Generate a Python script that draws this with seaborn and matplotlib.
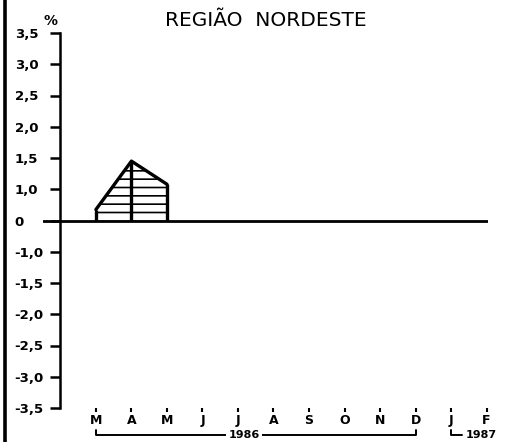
import numpy as np
import pandas as pd
import matplotlib
matplotlib.use("Agg")
import matplotlib.pyplot as plt
import seaborn as sns
from matplotlib.lines import Line2D

# data
months = ["M", "A", "M", "J", "J", "A", "S", "O", "N", "D", "J", "F"]
month_pos = list(range(len(months)))
rate_months = [0, 1, 2]          # Mar, Apr, May 1986
rate_values = [0.35, 1.45, 1.08]  # %
y_ticks = [3.5, 3.0, 2.5, 2.0, 1.5, 1.0, 0, -1.0, -1.5, -2.0, -2.5, -3.0, -3.5]
y_labels = ["3,5", "3,0", "2,5", "2,0", "1,5", "1,0", "0",
            "-1,0", "-1,5", "-2,0", "-2,5", "-3,0", "-3,5"]

df = pd.DataFrame({"mes": rate_months, "taxa": rate_values})


# broken scale: 0..1 takes the same room as 1..1.5
def fwd(v):
    v = np.asarray(v, dtype=float)
    a = np.abs(v)
    return np.where(a <= 1, v, np.sign(v) * (2 * a - 1))


def inv(p):
    p = np.asarray(p, dtype=float)
    a = np.abs(p)
    return np.where(a <= 1, p, np.sign(p) * (a + 1) / 2)


sns.set_style("white")
plt.rcParams["font.family"] = ["DejaVu Sans"]
plt.rcParams["hatch.linewidth"] = 1.2
plt.rcParams["text.color"] = "black"
plt.rcParams["xtick.color"] = "black"
plt.rcParams["ytick.color"] = "black"

fig = plt.figure(figsize=(5.08, 4.42), dpi=100)
ax = fig.add_axes([43 / 508, 34 / 442, 445 / 508, 375 / 442])
ax.set_yscale("function", functions=(fwd, inv))

# hatched area + outline
ax.fill_between(df["mes"], 0, df["taxa"], facecolor="none", edgecolor="black",
                hatch="--", linewidth=0)
sns.lineplot(data=df, x="mes", y="taxa", color="black", linewidth=2.4, ax=ax)
ax.vlines(df["mes"].iloc[[0, -1]], 0, df["taxa"].iloc[[0, -1]], color="black", linewidth=2.4)
ax.vlines(df["mes"].iloc[1], 0, df["taxa"].iloc[1], color="black", linewidth=2.4)
ax.axhline(0, color="black", linewidth=2.0)

ax.set_xlim(-1.49, 11.04)
ax.set_ylim(-3.5, 3.5)

for s in ["top", "right", "bottom"]:
    ax.spines[s].set_visible(False)
ax.spines["left"].set_position(("data", -1.0))
ax.spines["left"].set_linewidth(1.8)
ax.spines["left"].set_color("black")

ax.set_yticks(y_ticks)
ax.set_yticklabels(y_labels)
ax.yaxis.set_minor_locator(matplotlib.ticker.NullLocator())
ax.tick_params(axis="y", direction="out", length=7, width=1.8, pad=26,
               labelsize=9.5, left=True)
for t in ax.get_yticklabels():
    t.set_fontweight("bold")
    t.set_horizontalalignment("left")

ax.set_xticks(month_pos)
ax.set_xticklabels(months)
ax.tick_params(axis="x", direction="out", length=3, width=1.5, pad=1,
               labelsize=9, bottom=True)
for t in ax.get_xticklabels():
    t.set_fontweight("bold")

ax.set_xlabel("")
ax.set_ylabel("")

# year brackets under the month labels
tr = ax.get_xaxis_transform()
yb, yt = -0.073, -0.059
ax.plot([month_pos[0], month_pos[0], month_pos[9], month_pos[9]], [yt, yb, yb, yt],
        color="black", linewidth=1.4, transform=tr, clip_on=False)
ax.text(4.17, yb, "1986", transform=tr, ha="center", va="center", fontsize=8,
        fontweight="bold", bbox=dict(facecolor="white", edgecolor="none", pad=1.5))
ax.plot([month_pos[10], month_pos[10], 10.3], [yt, yb, yb],
        color="black", linewidth=1.4, transform=tr, clip_on=False)
ax.text(10.4, yb, "1987", transform=tr, ha="left", va="center", fontsize=8,
        fontweight="bold")

# title and unit
fig.text(266 / 508, 1 - 20 / 442, "REGIÃO  NORDESTE", ha="center", va="center",
         fontsize=14.5)
fig.text(50 / 508, 1 - 21 / 442, "%", ha="center", va="center", fontsize=10,
         fontweight="bold")

# page edge line from the scan
fig.add_artist(Line2D([5 / 508, 5 / 508], [0, 1], color="black", linewidth=2.6,
                      transform=fig.transFigure))

fig.savefig("out.png", dpi=100)
